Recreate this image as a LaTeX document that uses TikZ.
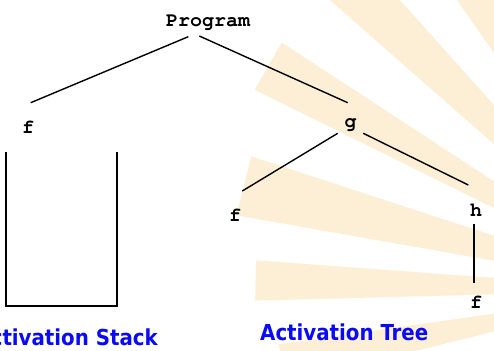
\documentclass[tikz,border=0pt]{standalone}
\usepackage{fontspec}
\newfontfamily\codefont{texgyrecursor}[Extension=.otf, UprightFont=*-regular, BoldFont=*-bold]
\newfontfamily\captionfont{DejaVu Sans Condensed}

\definecolor{raybeige}{RGB}{252,239,214}
\definecolor{captionblue}{RGB}{10,10,245}

\begin{document}
\begin{tikzpicture}[
    x=1pt, y=-1pt,
    call/.style={font=\codefont\bfseries\fontsize{20}{20}\selectfont, inner sep=0pt, anchor=base},
    caption/.style={font=\captionfont\bfseries\fontsize{22}{22}\selectfont, text=captionblue, inner sep=0pt},
    edge/.style={line width=1.4pt},
    stackline/.style={line width=2pt, line join=miter},
    ray/.style={fill=raybeige, draw=none}
]

% -------------------------
% Frame and backdrop
% -------------------------
    \useasboundingbox (0,0) rectangle (494,350);
    \clip (0,0) rectangle (494,350);
    \fill[white] (0,0) rectangle (494,350);

    % sun rays, all pointing to a centre right of the frame
    \begin{scope}[shift={(660,290)}]
        \foreach \a/\b/\r in {235/242/460, 221.3/228.1/460, 206.3/213.2/452,
                              190/198.1/430, 178.5/184.2/405, 166/171.9/385}
            \fill[ray] (0,0) -- (\a:\r) -- (\b:\r) -- cycle;
    \end{scope}

% -------------------------
% Activation stack (open box)
% -------------------------
    \draw[stackline] (6,152) -- (6,306) -- (117,306) -- (117,152);
    \node[caption, anchor=base east] (stacklbl) at (158,345) {Activation Stack};

% -------------------------
% Activation tree
% -------------------------
    \node[call] (prog) at (208,27) {Program};
    \node[call] (fa) at (28,133) {f};
    \node[call] (g) at (350.5,127) {g};
    \node[call] (fb) at (235,221) {f};
    \node[call] (h) at (476,216) {h};
    \node[call] (fc) at (476,308) {f};

    \node[caption, anchor=base west] (treelbl) at (260,340) {Activation Tree};

    % calls
    \draw[edge] ([shift={(-19.7,9.7)}]prog.base) -- ([shift={(2.7,-30.3)}]fa.base);
    \draw[edge] ([shift={(-8.7,9)}]prog.base) -- ([shift={(-2.8,-24.3)}]g.base);
    \draw[edge] ([shift={(-12.8,6.3)}]g.base) -- ([shift={(7.3,-30)}]fb.base);
    \draw[edge] ([shift={(12.8,6.3)}]g.base) -- ([shift={(-7.7,-31)}]h.base);
    \draw[edge] ([shift={(-2,8.3)}]h.base) -- ([shift={(-2,-25.3)}]fc.base);
\end{tikzpicture}
\end{document}
